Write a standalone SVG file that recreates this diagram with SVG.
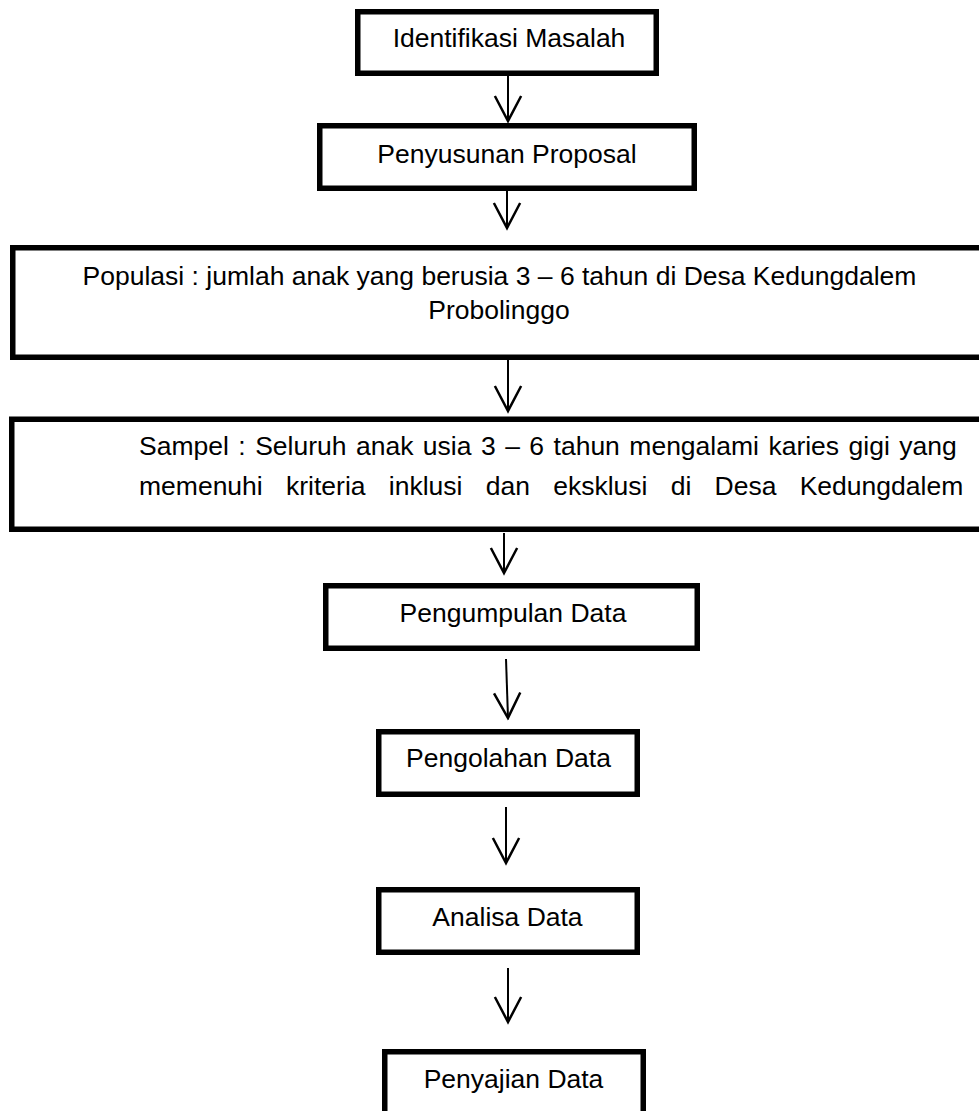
<svg xmlns="http://www.w3.org/2000/svg" width="979" height="1111" viewBox="0 0 979 1111">
<style>
.box{fill:#fff;stroke:#000;stroke-width:5.5}
.lbl{font-family:"Liberation Sans",Arial,sans-serif;font-size:26.5px;fill:#000}
.c{text-anchor:middle}
.arr{stroke:#000;stroke-width:2;fill:none;marker-end:url(#v)}
</style>
<defs>
<marker id="v" markerUnits="userSpaceOnUse" markerWidth="30" markerHeight="30" viewBox="-22 -12 24 24" refX="0" refY="0" orient="auto">
<path d="M-20,-10.5 L0,0 L-20,10.5" fill="none" stroke="#000" stroke-width="2"/>
</marker>
</defs>
<rect width="979" height="1111" fill="#fff"/>
<g id="connectors">
<line class="arr" x1="508" y1="76" x2="508" y2="121"/>
<line class="arr" x1="507" y1="191" x2="507" y2="228"/>
<line class="arr" x1="508" y1="360" x2="508" y2="411"/>
<line class="arr" x1="504" y1="533" x2="504" y2="573"/>
<line class="arr" x1="506" y1="659" x2="508" y2="718"/>
<line class="arr" x1="506" y1="807" x2="506" y2="863"/>
<line class="arr" x1="508" y1="968" x2="508" y2="1022"/>
</g>
<g id="n1">
<rect class="box" x="357.75" y="11.75" width="298.5" height="61.5"/>
<text class="lbl c" x="509" y="47">Identifikasi Masalah</text>
</g>
<g id="n2">
<rect class="box" x="319.75" y="125.75" width="374.5" height="62.5"/>
<text class="lbl c" x="507" y="163">Penyusunan Proposal</text>
</g>
<g id="n3">
<rect class="box" x="12.75" y="247.75" width="980" height="109.5"/>
<text class="lbl c" x="499.5" y="285">Populasi : jumlah anak yang berusia 3 – 6 tahun di Desa Kedungdalem</text>
<text class="lbl c" x="499" y="319">Probolinggo</text>
</g>
<g id="n4">
<rect class="box" x="11.75" y="419.25" width="980" height="110"/>
<text class="lbl" x="139" y="455" word-spacing="2.1">Sampel : Seluruh anak usia 3 – 6 tahun mengalami karies gigi yang</text>
<text class="lbl" x="139" y="495" word-spacing="15.9">memenuhi kriteria inklusi dan eksklusi di Desa Kedungdalem</text>
</g>
<g id="n5">
<rect class="box" x="325.75" y="585.75" width="371.5" height="62.5"/>
<text class="lbl c" x="513" y="622">Pengumpulan Data</text>
</g>
<g id="n6">
<rect class="box" x="378.75" y="731.75" width="258.5" height="62.5"/>
<text class="lbl c" x="508.5" y="767">Pengolahan Data</text>
</g>
<g id="n7">
<rect class="box" x="378.75" y="889.75" width="258.5" height="62.5"/>
<text class="lbl c" x="507.5" y="926">Analisa Data</text>
</g>
<g id="n8">
<rect class="box" x="384.75" y="1051.75" width="258.5" height="80"/>
<text class="lbl c" x="513.5" y="1088">Penyajian Data</text>
</g>
</svg>
